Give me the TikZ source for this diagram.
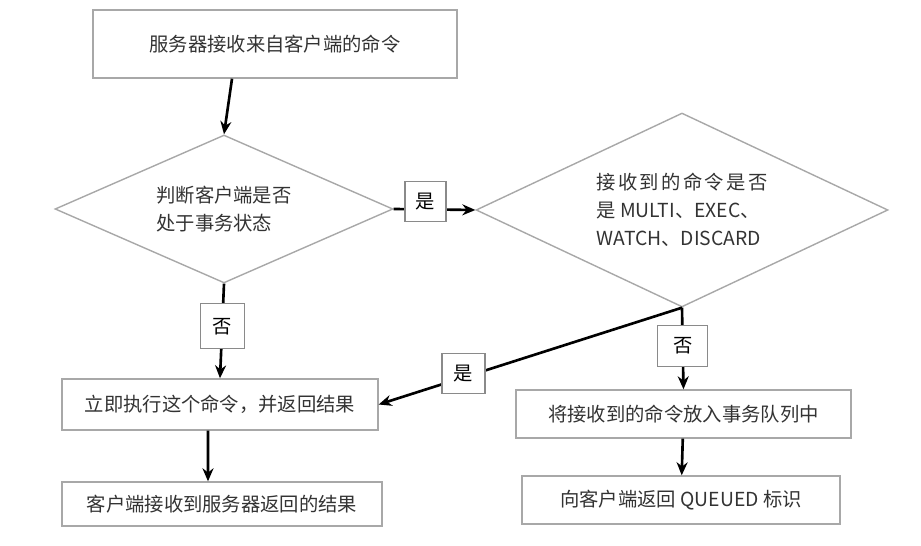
\documentclass[tikz,border=0pt]{standalone}
\usepackage{xcolor}
\usepackage{fontspec}
\usepackage{tikz}
\usetikzlibrary{arrows.meta,shapes.geometric}
\newfontfamily\cjk{Noto Sans CJK SC}
\definecolor{BoxGray}{HTML}{A8A8A8}
\definecolor{LblGray}{HTML}{8A8A8A}
\definecolor{TxtGray}{HTML}{333333}

\begin{document}
\begin{tikzpicture}[x=0.02cm, y=-0.02cm,
  every node/.style={font=\cjk\fontsize{11}{16}\selectfont, text=TxtGray},
  proc/.style={draw=BoxGray, line width=0.8pt, rectangle, align=center, inner sep=0pt},
  dec/.style={draw=BoxGray, line width=0.8pt, diamond, aspect=2.2, align=left, inner sep=0pt},
  lab/.style={draw=LblGray, line width=0.7pt, fill=white, inner sep=0pt, text=black},
  flow/.style={draw=black, line width=1.5pt, -{Stealth[length=2.6mm, width=2.2mm]}}]

  \useasboundingbox (0,0) rectangle (921,546);

  % ===== process boxes =====
  \node[proc, minimum width=7.28cm, minimum height=1.36cm] (recv)   at (275,44)   {服务器接收来自客户端的命令};
  \node[proc, minimum width=6.32cm, minimum height=1.02cm] (exec)   at (220,404.5){立即执行这个命令，并返回结果};
  \node[proc, minimum width=6.40cm, minimum height=0.88cm] (result) at (222,504)  {客户端接收到服务器返回的结果};
  \node[proc, minimum width=6.70cm, minimum height=0.96cm] (queue)  at (683.5,414){将接收到的命令放入事务队列中};
  \node[proc, minimum width=6.36cm, minimum height=0.96cm] (queued) at (681,500)  {向客户端返回 QUEUED 标识};

  % ===== decisions =====
  \node[dec, minimum width=6.76cm, minimum height=2.96cm] (judge) at (224,209)
        {判断客户端是否\\处于事务状态};
  \node[dec, minimum width=8.24cm, minimum height=3.88cm] (check) at (682,210)
        {{\addfontfeature{LetterSpace=12}接收到的命令是否}\\是\ MULTI、EXEC、\\WATCH、DISCARD};

  % ===== flow =====
  \draw[flow] ([xshift=-0.86cm]recv.south) -- (judge.north);
  \draw[flow] (judge.east) -- node[lab, pos=0.39, yshift=0.16cm, minimum width=0.82cm, minimum height=0.8cm]{是} (check.west);
  \draw[flow] (judge.south) -- node[lab, pos=0.45, minimum width=0.88cm, minimum height=0.9cm]{否} (exec.north);
  \draw[flow] (check.south) -- node[lab, pos=0.72, yshift=0.08cm, minimum width=0.86cm, minimum height=0.8cm]{是} (exec.east);
  \draw[flow] (check.south) -- node[lab, pos=0.47, minimum width=1.0cm, minimum height=0.82cm]{否} (queue.north);
  \draw[flow] ([xshift=-0.24cm]exec.south) -- ([xshift=-0.28cm]result.north);
  \draw[flow] (queue) -- (queued);

\end{tikzpicture}
\end{document}
